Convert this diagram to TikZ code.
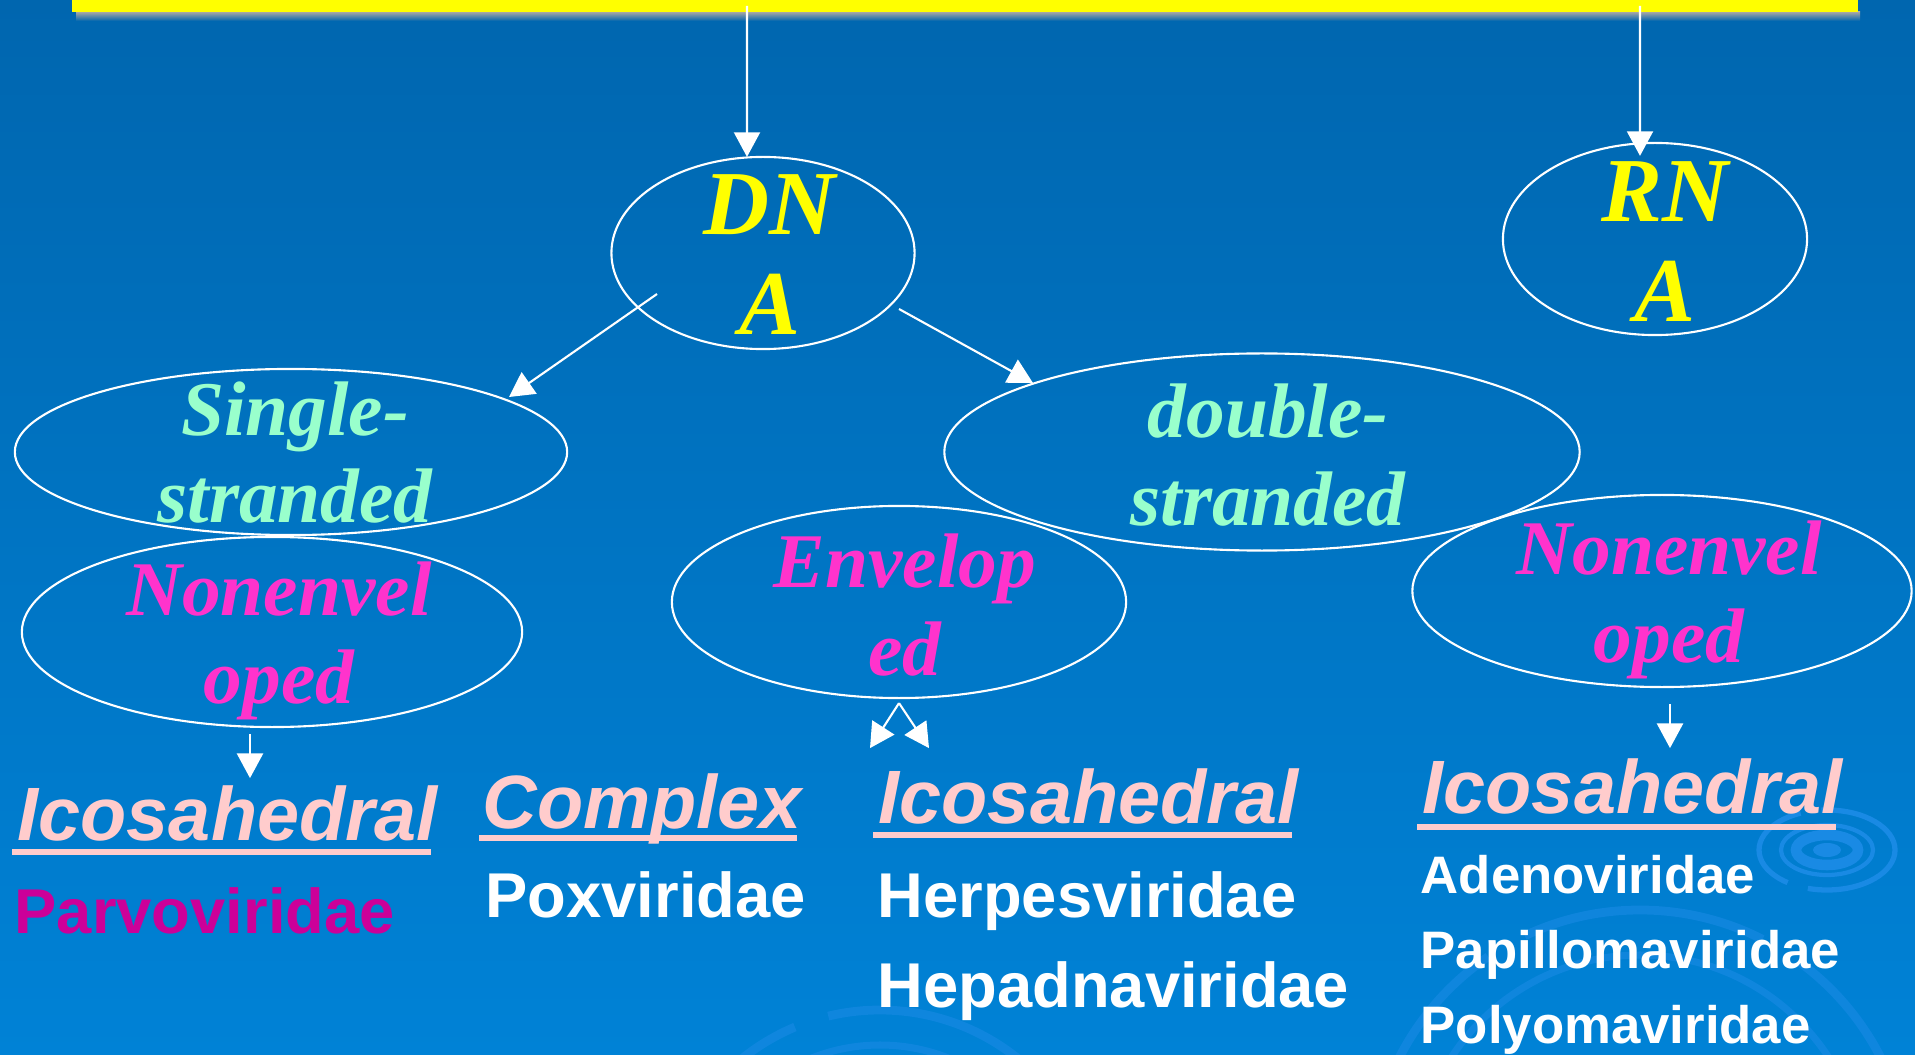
\documentclass[tikz,border=0pt]{standalone}
\usepackage{fontspec}
\usetikzlibrary{shapes.geometric,arrows.meta}
\newfontfamily\timesbi{Liberation Serif}
\newfontfamily\arialbd{Liberation Sans}
\definecolor{bgtop}{RGB}{0,102,175}
\definecolor{bgmid}{RGB}{0,108,186}
\definecolor{bgbot}{RGB}{0,130,214}
\definecolor{dnayellow}{RGB}{255,255,0}
\definecolor{mint}{RGB}{153,255,204}
\definecolor{envpink}{RGB}{255,51,204}
\definecolor{headpink}{RGB}{255,204,204}
\definecolor{parvo}{RGB}{204,0,153}
\definecolor{ripple}{RGB}{25,138,228}

\begin{document}
\begin{tikzpicture}
	[x=0.01cm,y=-0.01cm,
	oval/.style={ellipse,draw=white,line width=0.6pt,inner sep=0pt},
	bar/.style={rectangle,fill=dnayellow,inner sep=0pt,minimum width=17.84cm,minimum height=0.12cm},
	acidtxt/.style={font=\timesbi\bfseries\itshape\fontsize{26}{28.5}\selectfont,text=dnayellow,align=center,anchor=base,inner sep=0pt},
	strandtxt/.style={font=\timesbi\bfseries\itshape\fontsize{22}{25}\selectfont,text=mint,align=center,anchor=base,inner sep=0pt},
	envtxt/.style={strandtxt,text=envpink},
	headtxt/.style={font=\arialbd\bfseries\itshape\fontsize{21.5}{24}\selectfont,text=headpink,anchor=base west,inner sep=0pt},
	famtxt/.style={font=\arialbd\bfseries\fontsize{18}{21}\selectfont,text=white,anchor=base west,inner sep=0pt},
	smallfam/.style={famtxt,font=\arialbd\bfseries\fontsize{15}{18}\selectfont},
	arr/.style={-{Triangle[width=7.4pt,length=7pt]},draw=white,line width=0.6pt},
	uline/.style={draw=headpink,line width=1.6pt}]
	\shade[top color=bgtop,middle color=bgmid,bottom color=bgbot] (0,0) rectangle (1915,1055);
	\useasboundingbox (0,0) rectangle (1915,1055);
	\fill[ripple] (1827,850) ellipse [x radius=14,y radius=7];
	\draw[ripple,line width=3pt] (1827,850) ellipse [x radius=31,y radius=15];
	\draw[ripple,line width=1.2pt] (1827,850) ellipse [x radius=46,y radius=25];
	\draw[ripple,line width=1.5pt,dash pattern=on 30pt off 6pt] (1827,850) ellipse [x radius=68,y radius=40];
	\draw[ripple,opacity=0.6,line width=2.5pt,dash pattern=on 60pt off 10pt] (880,1230) circle [radius=220];
	\draw[ripple,opacity=0.6,line width=2pt] (880,1230) circle [radius=185];
	\draw[ripple,opacity=0.6,line width=2.5pt,dash pattern=on 70pt off 12pt] (1640,1180) circle [radius=270];
	\draw[ripple,opacity=0.6,line width=2pt] (1640,1180) circle [radius=225];
	\shade[top color=gray!70,bottom color=bgtop] (76,12) rectangle (1860,21);
	\node[bar] (title) at (965,6) {};
	\node[oval,minimum width=3.03cm,minimum height=1.92cm] (dna) at (763,253) {};
	\node[oval,minimum width=3.04cm,minimum height=1.92cm] (rna) at (1655,239) {};
	\node[oval,minimum width=5.52cm,minimum height=1.66cm] (ss) at (291,452) {};
	\node[oval,minimum width=6.35cm,minimum height=1.97cm] (ds) at (1262,452) {};
	\node[oval,minimum width=5.00cm,minimum height=1.90cm] (nl) at (272,632) {};
	\node[oval,minimum width=4.54cm,minimum height=1.92cm] (env) at (899,602) {};
	\node[oval,minimum width=4.99cm,minimum height=1.92cm] (nr) at (1662,591) {};
	\node[acidtxt] (dnalbl) at (770,335) {DN\\A};
	\node[acidtxt] (rnalbl) at (1665,322) {RN\\A};
	\node[strandtxt] (sslbl) at (295,523) {Single-\\stranded};
	\node[strandtxt] (dslbl) at (1268,525) {double-\\stranded};
	\node[envtxt] (nllbl) at (279,703) {Nonenvel\\oped};
	\node[envtxt] (envlbl) at (905,675) {Envelop\\ed};
	\node[envtxt] (nrlbl) at (1669,662) {Nonenvel\\oped};
	\node[headtxt] (ico1) at (17,840) {Icosahedral};
	\node[headtxt] (cplx) at (482,828) {Complex};
	\node[headtxt] (ico2) at (878,823) {Icosahedral};
	\node[headtxt] (ico3) at (1422,813) {Icosahedral};
	\node[famtxt,text=parvo] (parvo) at (14,933) {Parvoviridae};
	\node[famtxt] (pox) at (485,917) {Poxviridae};
	\node[famtxt] (herpes) at (877,917) {Herpesviridae};
	\node[famtxt] (hepadna) at (877,1007) {Hepadnaviridae};
	\node[smallfam] (adeno) at (1420,893) {Adenoviridae};
	\node[smallfam] (papillo) at (1420,968) {Papillomaviridae};
	\node[smallfam] (polyoma) at (1420,1043) {Polyomaviridae};
	\path[uline] ([shift={(-5,12)}]ico1.base west) edge ([shift={(-8,12)}]ico1.base east);
	\path[uline] ([shift={(-3,10)}]cplx.base west) edge ([shift={(-6,10)}]cplx.base east);
	\path[uline] ([shift={(-5,12)}]ico2.base west) edge ([shift={(-8,12)}]ico2.base east);
	\path[uline] ([shift={(-5,14)}]ico3.base west) edge ([shift={(-8,14)}]ico3.base east);
	\path ([xshift=-0.16cm]dna.north |- title.center) edge[arr] ([shift={(-16,1)}]dna.north);
	\path ([xshift=-0.15cm]rna.north |- title.center) edge[arr] ([shift={(-15,14)}]rna.north);
	\path ([shift={(-106,41)}]dna.center) edge[arr] ([shift={(218,-55)}]ss.center);
	\path ([shift={(136,56)}]dna.center) edge[arr] ([shift={(-229,-69)}]ds.center);
	\path ([shift={(-22,6)}]nl.south) edge[arr] ([shift={(-22,50)}]nl.south);
	\path ([shift={(0,4)}]env.south) edge[arr] ([shift={(-29,49)}]env.south);
	\path ([shift={(0,4)}]env.south) edge[arr] ([shift={(30,49)}]env.south);
	\path ([shift={(8,16)}]nr.south) edge[arr] ([shift={(8,60)}]nr.south);
\end{tikzpicture}
\end{document}
